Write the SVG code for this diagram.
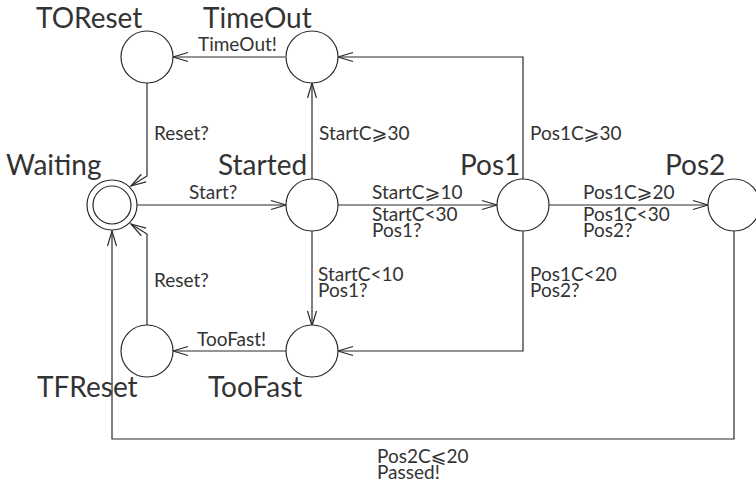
<svg xmlns="http://www.w3.org/2000/svg" width="756" height="485" viewBox="0 0 756 485">
  <defs>
    <marker id="arrow" markerUnits="userSpaceOnUse" markerWidth="20" markerHeight="12" viewBox="-16 -6 18 12" refX="0" refY="0" orient="auto">
      <path d="M-15,-4.5 L0,0 L-15,4.5" fill="none" stroke="#2b2b2b" stroke-width="1.2"/>
    </marker>
    <style>
      .state { fill: #fff; stroke: #2b2b2b; stroke-width: 1.2; }
      .edge { fill: none; stroke: #2b2b2b; stroke-width: 1.2; marker-end: url(#arrow); }
      .name { font-family: Lato, "DejaVu Sans", sans-serif; font-size: 28px; fill: #333; }
      .lbl { font-family: Lato, "DejaVu Sans", sans-serif; font-size: 19px; fill: #333; }
    </style>
  </defs>
  <rect width="756" height="485" fill="#fff"/>

  <!-- transitions -->
  <g id="connectors">
    <path class="edge" d="M285,57 H173"/>
    <path class="edge" d="M523,179 V57 H338"/>
    <path class="edge" d="M312,179 V83"/>
    <path class="edge" d="M147,83 V176 L131,186"/>
    <path class="edge" d="M147,325 V234 L131,224"/>
    <path class="edge" d="M137,205 H286"/>
    <path class="edge" d="M338,205 H497"/>
    <path class="edge" d="M549,205 H708"/>
    <path class="edge" d="M312,231 V326"/>
    <path class="edge" d="M523,231 V351 H338"/>
    <path class="edge" d="M286,351 H173"/>
    <path class="edge" d="M734,231 V439 H112 V231"/>

    <text class="lbl" x="198" y="51">TimeOut!</text>
    <text class="lbl" x="319" y="140">StartC⩾30</text>
    <text class="lbl" x="530" y="140">Pos1C⩾30</text>
    <text class="lbl" x="154" y="140">Reset?</text>
    <text class="lbl" x="189" y="199">Start?</text>
    <text class="lbl" x="372" y="199">StartC⩾10</text>
    <text class="lbl" x="372" y="221">StartC&lt;30<tspan x="372" dy="16">Pos1?</tspan></text>
    <text class="lbl" x="583" y="199">Pos1C⩾20</text>
    <text class="lbl" x="583" y="221">Pos1C&lt;30<tspan x="583" dy="16">Pos2?</tspan></text>
    <text class="lbl" x="318" y="281">StartC&lt;10<tspan x="318" dy="16">Pos1?</tspan></text>
    <text class="lbl" x="530" y="281">Pos1C&lt;20<tspan x="530" dy="16">Pos2?</tspan></text>
    <text class="lbl" x="154" y="287">Reset?</text>
    <text class="lbl" x="197" y="346">TooFast!</text>
    <text class="lbl" x="377" y="463">Pos2C⩽20<tspan x="377" dy="16">Passed!</tspan></text>
  </g>

  <!-- states -->
  <g id="TOReset">
    <circle class="state" cx="147" cy="57" r="26"/>
    <text class="name" x="36" y="28">TOReset</text>
  </g>
  <g id="TimeOut">
    <circle class="state" cx="312" cy="57" r="26"/>
    <text class="name" x="203" y="28">TimeOut</text>
  </g>
  <g id="Waiting">
    <circle class="state" cx="112" cy="205" r="25"/>
    <circle class="state" cx="112" cy="205" r="19"/>
    <text class="name" x="6" y="175">Waiting</text>
  </g>
  <g id="Started">
    <circle class="state" cx="312" cy="205" r="26"/>
    <text class="name" x="218" y="175">Started</text>
  </g>
  <g id="Pos1">
    <circle class="state" cx="523" cy="205" r="26"/>
    <text class="name" x="460" y="175">Pos1</text>
  </g>
  <g id="Pos2">
    <circle class="state" cx="734" cy="205" r="26"/>
    <text class="name" x="665" y="175">Pos2</text>
  </g>
  <g id="TFReset">
    <circle class="state" cx="147" cy="351" r="26"/>
    <text class="name" x="37" y="397">TFReset</text>
  </g>
  <g id="TooFast">
    <circle class="state" cx="312" cy="351" r="26"/>
    <text class="name" x="208" y="397">TooFast</text>
  </g>
</svg>
